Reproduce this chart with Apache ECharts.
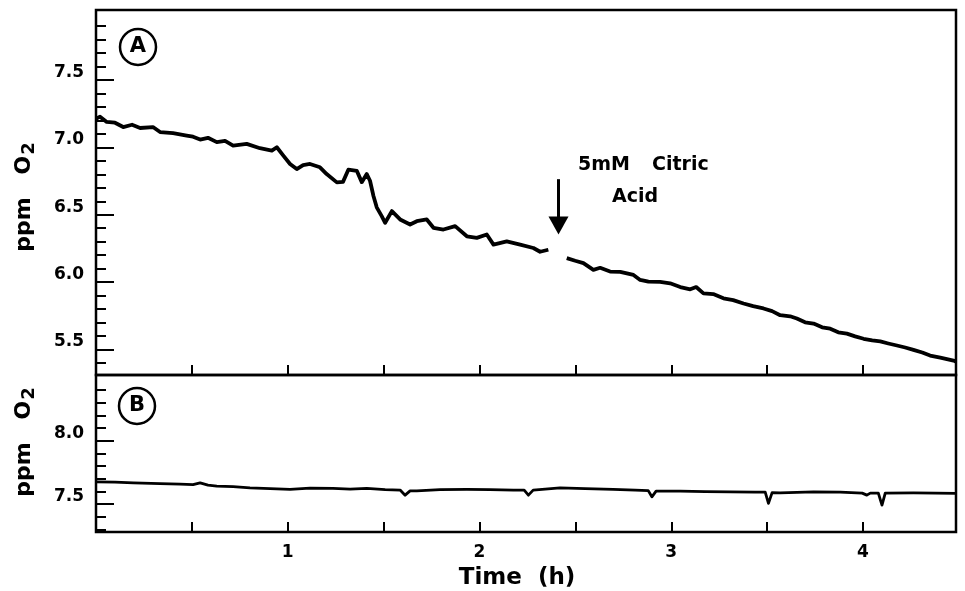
<!DOCTYPE html>
<html>
<head>
<meta charset="utf-8">
<script src="https://cdn.jsdelivr.net/npm/echarts@6/dist/echarts.min.js"></script>
<style>html,body{margin:0;padding:0;background:#fff}#c{width:965px;height:591px}</style>
</head>
<body>
<div id="c"></div>
<script>
// ---- Panel A (top): O2 trace, before and after citric acid addition ----
var timeA1 = [0,0.021,0.056,0.099,0.142,0.188,0.230,0.297,0.334,0.402,0.473,0.506,0.543,0.584,0.630,0.673,0.715,0.786,0.855,0.917,0.943,0.977,1.012,1.047,1.080,1.116,1.168,1.203,1.256,1.288,1.316,1.360,1.386,1.412,1.429,1.447,1.464,1.490,1.508,1.543,1.586,1.638,1.673,1.725,1.760,1.812,1.873,1.934,1.986,2.038,2.073,2.142,2.212,2.281,2.316,2.359];
var valA1  = [7.213,7.228,7.189,7.183,7.151,7.168,7.144,7.151,7.114,7.106,7.088,7.079,7.058,7.071,7.039,7.049,7.013,7.026,6.994,6.976,7.001,6.939,6.877,6.839,6.869,6.877,6.852,6.802,6.740,6.744,6.834,6.826,6.742,6.802,6.752,6.639,6.555,6.490,6.440,6.527,6.465,6.427,6.452,6.465,6.403,6.390,6.415,6.340,6.328,6.353,6.278,6.302,6.278,6.253,6.225,6.240];
var timeA2 = [2.455,2.499,2.542,2.594,2.629,2.681,2.734,2.803,2.838,2.881,2.942,2.994,3.047,3.099,3.130,3.168,3.219,3.272,3.323,3.377,3.427,3.481,3.526,3.568,3.620,3.655,3.698,3.742,3.787,3.829,3.871,3.916,3.959,4.003,4.048,4.090,4.132,4.177,4.220,4.263,4.309,4.350,4.403,4.472,4.486];
var valA2  = [6.178,6.158,6.141,6.091,6.106,6.078,6.076,6.053,6.016,6.003,6.001,5.991,5.963,5.946,5.963,5.916,5.911,5.879,5.866,5.841,5.821,5.804,5.784,5.754,5.746,5.729,5.701,5.692,5.664,5.654,5.627,5.617,5.597,5.579,5.567,5.559,5.544,5.529,5.514,5.497,5.477,5.454,5.439,5.417,5.409];
// ---- Panel B (bottom): control trace ----
var timeB = [0,0.099,0.195,0.334,0.438,0.506,0.543,0.584,0.630,0.715,0.803,0.908,1.012,1.116,1.236,1.325,1.412,1.508,1.586,1.612,1.638,1.673,1.794,1.934,2.055,2.177,2.233,2.255,2.280,2.420,2.551,2.697,2.812,2.880,2.899,2.921,3.047,3.177,3.307,3.437,3.490,3.507,3.526,3.568,3.742,3.881,3.996,4.020,4.038,4.080,4.099,4.116,4.263,4.377,4.486];
var valB  = [7.676,7.674,7.668,7.662,7.658,7.654,7.668,7.650,7.642,7.638,7.629,7.622,7.616,7.626,7.624,7.618,7.624,7.615,7.611,7.571,7.605,7.605,7.615,7.616,7.615,7.611,7.611,7.571,7.611,7.629,7.622,7.616,7.611,7.607,7.558,7.603,7.603,7.599,7.597,7.595,7.595,7.506,7.591,7.589,7.597,7.595,7.587,7.571,7.587,7.587,7.492,7.587,7.589,7.587,7.585];

// ---- Tick values ----
var xTicks = [0.5,1,1.5,2,2.5,3,3.5,4];
var xLabels = [1,2,3,4];
var yMajorA = [5.5,6.0,6.5,7.0,7.5];
var yMinorA = [5.4,5.6,5.7,5.8,5.9,6.1,6.2,6.3,6.4,6.6,6.7,6.8,6.9,7.1,7.2,7.3,7.4,7.6,7.7,7.8,7.9];
var yMajorB = [7.5,8.0];
var yMinorB = [7.3,7.4,7.6,7.7,7.8,7.9,8.1,8.2,8.3,8.4];

// ---- Annotation (arrow at citric acid addition), data coords ----
var arrowTime = 2.412, arrowTop = 6.764, arrowEnd = 6.42;

function zip(t, v){ return t.map(function(x,i){ return [x, v[i]]; }); }

var FONT = 'DejaVu Sans';
var chart = echarts.init(document.getElementById('c'), null, {renderer:'canvas'});

function xAxisCfg(grid, showLabels){
  return {
    type:'value', gridIndex:grid, min:0, max:4.485,
    axisLine:{show:false}, splitLine:{show:false},
    axisTick:{show:true, inside:true, length:10, customValues:xTicks, lineStyle:{color:'#000', width:2}},
    axisLabel:{show:showLabels, customValues:xLabels, margin:12, color:'#000', fontFamily:FONT, fontWeight:'bold', fontSize:17, formatter:function(v){return String(v);}},
    name: showLabels ? 'Time  (h)' : '', nameLocation:'middle', nameGap:35,
    nameTextStyle:{color:'#000', fontFamily:FONT, fontWeight:'bold', fontSize:23, padding:[0,18,0,0]}
  };
}
function yMajor(grid, min, max, vals){
  return {
    type:'value', gridIndex:grid, min:min, max:max,
    axisLine:{show:false}, splitLine:{show:false},
    axisTick:{show:true, inside:true, length:18, customValues:vals, lineStyle:{color:'#000', width:2}},
    axisLabel:{show:true, customValues:vals, margin:12, color:'#000', fontFamily:FONT, fontWeight:'bold', fontSize:17,
      verticalAlign:'bottom', lineHeight:15, formatter:function(v){return v.toFixed(1);}}
  };
}
function yMinor(grid, min, max, vals){
  return {
    type:'value', gridIndex:grid, min:min, max:max, position:'left',
    axisLine:{show:false}, splitLine:{show:false},
    axisTick:{show:true, inside:true, length:10, customValues:vals, lineStyle:{color:'#000', width:2}},
    axisLabel:{show:false}
  };
}

var titleStyle = {fill:'#000', font:'bold 22px "DejaVu Sans"', align:'center', verticalAlign:'middle',
  rich:{s:{fontSize:18, fontWeight:'bold', fontFamily:FONT, verticalAlign:'bottom', padding:[10,0,0,1]}}};

var option = {
  animation:false,
  backgroundColor:'#fff',
  grid:[
    {left:96, right:9, top:10, height:365, show:true, borderColor:'#000', borderWidth:2.5, outerBoundsMode:'none'},
    {left:96, right:9, top:375, height:157, show:true, borderColor:'#000', borderWidth:2.5, outerBoundsMode:'none'}
  ],
  xAxis:[ xAxisCfg(0,false), xAxisCfg(1,true) ],
  yAxis:[
    yMajor(0, 5.31, 8.02, yMajorA),
    yMinor(0, 5.31, 8.02, yMinorA),
    yMajor(1, 7.28, 8.52, yMajorB),
    yMinor(1, 7.28, 8.52, yMinorB)
  ],
  series:[
    {type:'line', xAxisIndex:0, yAxisIndex:0, data:zip(timeA1,valA1), showSymbol:false, lineStyle:{color:'#000', width:3.8, join:'round'}, silent:true},
    {type:'line', xAxisIndex:0, yAxisIndex:0, data:zip(timeA2,valA2), showSymbol:false, lineStyle:{color:'#000', width:3.8, join:'round'}, silent:true,
      markLine:{silent:true, symbol:['none','triangle'], symbolSize:[20,18], label:{show:false},
        lineStyle:{color:'#000', width:3, type:'solid'}, emphasis:{disabled:true},
        data:[[{coord:[arrowTime, arrowTop]},{coord:[arrowTime, arrowEnd]}]]}},
    {type:'line', xAxisIndex:1, yAxisIndex:2, data:zip(timeB,valB), showSymbol:false, lineStyle:{color:'#000', width:2.8, join:'round'}, silent:true}
  ],
  graphic:[
    {type:'circle', shape:{cx:138, cy:47, r:18}, style:{fill:'none', stroke:'#000', lineWidth:2.5}},
    {type:'text', x:138, y:47, style:{text:'A', fill:'#000', font:'bold 21px "DejaVu Sans"', align:'center', verticalAlign:'middle'}},
    {type:'circle', shape:{cx:137, cy:406, r:18}, style:{fill:'none', stroke:'#000', lineWidth:2.5}},
    {type:'text', x:137, y:406, style:{text:'B', fill:'#000', font:'bold 21px "DejaVu Sans"', align:'center', verticalAlign:'middle'}},
    {type:'text', x:24, y:197, rotation:Math.PI/2, style:Object.assign({text:'ppm   O{s|2}'}, titleStyle)},
    {type:'text', x:24, y:442, rotation:Math.PI/2, style:Object.assign({text:'ppm   O{s|2}'}, titleStyle)},
    {type:'text', x:578, y:165, style:{text:'5mM', fill:'#000', font:'bold 19px "DejaVu Sans"', align:'left', verticalAlign:'middle'}},
    {type:'text', x:652, y:165, style:{text:'Citric', fill:'#000', font:'bold 19px "DejaVu Sans"', align:'left', verticalAlign:'middle'}},
    {type:'text', x:612, y:197, style:{text:'Acid', fill:'#000', font:'bold 19px "DejaVu Sans"', align:'left', verticalAlign:'middle'}}
  ]
};
chart.setOption(option);
</script>
</body>
</html>
